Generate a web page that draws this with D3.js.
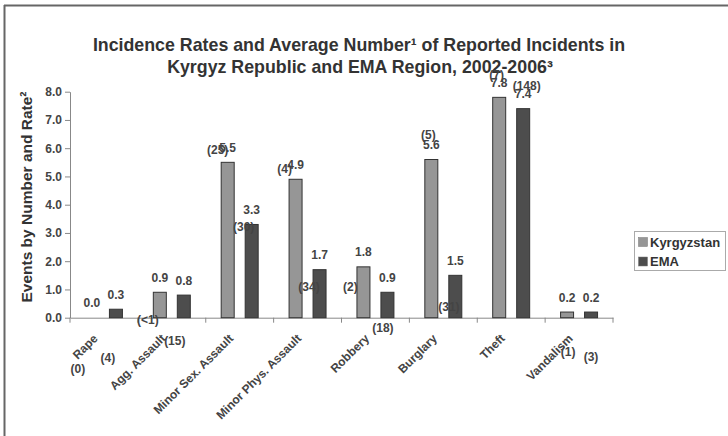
<!DOCTYPE html>
<html><head><meta charset="utf-8">
<script src="https://cdn.jsdelivr.net/npm/d3@7/dist/d3.min.js"></script>
<style>
body{margin:0;background:#fff;}
text{font-family:"Liberation Sans",Arial,sans-serif;font-weight:bold;}
</style></head>
<body><svg id="c" width="728" height="436"></svg>
<script>
const categories = ["Rape","Agg. Assault","Minor Sex. Assault","Minor Phys. Assault","Robbery","Burglary","Theft","Vandalism"];
const seriesNames = ["Kyrgyzstan","EMA"];
const kyrgyzRates = [0.0,0.9,5.5,4.9,1.8,5.6,7.8,0.2];
const emaRates = [0.3,0.8,3.3,1.7,0.9,1.5,7.4,0.2];
const kyrgyzCounts = ["(0)","(<1)","(25)","(4)","(2)","(5)","(7)","(1)"];
const emaCounts = ["(4)","(15)","(30)","(34)","(18)","(31)","(148)","(3)"];
const yTicks = [0,1,2,3,4,5,6,7,8];

// count label offsets relative to bar center / bar top (layout only)
const kyrgyzCountPos = [[-14,51],[-12,27],[-10,-13],[-11,-11],[-13,20],[-3,-24.5],[-2.5,-22.4],[1,40]];
const emaCountPos = [[-8,48],[-9,46],[-8,2.5],[-10.6,17.3],[-4.5,35.7],[-6.4,31.7],[3.5,-22.7],[0,45]];

const svg = d3.select("#c");
const colors = {Kyrgyzstan:"#969696", EMA:"#4d4d4d"};

// frame (top & left)
svg.append("line").attr("x1",4).attr("y1",5.5).attr("x2",728).attr("y2",5.5).attr("stroke","#666").attr("stroke-width",2);
svg.append("line").attr("x1",4.5).attr("y1",5).attr("x2",4.5).attr("y2",436).attr("stroke","#666").attr("stroke-width",2);

const pLeft=70, pRight=613, pTop=91.7, pBottom=317.7;
const x = d3.scaleBand().domain(categories).range([pLeft,pRight]);
const xs = d3.scaleBand().domain(seriesNames).range([0,x.bandwidth()]).paddingInner(0.458).paddingOuter(0.644);
const y = d3.scaleLinear().domain([0,8]).range([pBottom,pTop]);

// title
const title = svg.append("text").attr("text-anchor","middle").attr("fill","#333").style("font-size","17.8px");
title.append("tspan").attr("x",359).attr("y",50.5).text("Incidence Rates and Average Number\u00b9 of Reported Incidents in");
title.append("tspan").attr("x",360).attr("y",72.5).text("Kyrgyz Republic and EMA Region, 2002-2006\u00b3");

// y axis
const yAxis = svg.append("g").attr("transform",`translate(${pLeft},0)`)
  .call(d3.axisLeft(y).tickValues(yTicks).tickFormat(d3.format(".1f")).tickSize(5).tickSizeOuter(0));
yAxis.select(".domain").attr("stroke","#888");
yAxis.selectAll(".tick line").attr("stroke","#888");
yAxis.selectAll(".tick text").attr("fill","#444").style("font-size","12px").attr("x",-8);

// x axis
const xAxis = svg.append("g").attr("transform",`translate(0,${pBottom})`)
  .call(d3.axisBottom(x).tickSize(0).tickSizeOuter(0));
xAxis.select(".domain").attr("stroke","#888");
const bounds = categories.map(c=>x(c)).concat([pRight]);
xAxis.selectAll(".bnd").data(bounds).enter().append("line")
  .attr("x1",d=>d).attr("x2",d=>d).attr("y1",0).attr("y2",5).attr("stroke","#888");
xAxis.selectAll(".tick text")
  .attr("fill","#444").style("font-size","12px").attr("text-anchor","end")
  .attr("x",null).attr("y",null).attr("dy","0.35em")
  .attr("transform","translate(-8.5,18.5) rotate(-45)");

// bars
const data = categories.map((c,i)=>({c, vals:[
  {s:"Kyrgyzstan",v:kyrgyzRates[i],n:kyrgyzCounts[i],p:kyrgyzCountPos[i]},
  {s:"EMA",v:emaRates[i],n:emaCounts[i],p:emaCountPos[i]}]}));
const g = svg.selectAll(".cat").data(data).enter().append("g").attr("transform",d=>`translate(${x(d.c)},0)`);
g.selectAll("rect").data(d=>d.vals.filter(v=>v.v>0)).enter().append("rect")
  .attr("x",d=>xs(d.s)).attr("width",xs.bandwidth())
  .attr("y",d=>y(d.v)).attr("height",d=>pBottom-y(d.v))
  .attr("fill",d=>colors[d.s]).attr("stroke","#333").attr("stroke-width",1);
g.selectAll(".val").data(d=>d.vals).enter().append("text")
  .attr("text-anchor","middle").attr("fill","#444").style("font-size","12px")
  .attr("x",d=>xs(d.s)+xs.bandwidth()/2).attr("y",d=>y(d.v)-10.5).text(d=>d3.format(".1f")(d.v));
g.selectAll(".cnt").data(d=>d.vals).enter().append("text")
  .attr("text-anchor","middle").attr("fill","#444").style("font-size","12px")
  .attr("x",d=>xs(d.s)+xs.bandwidth()/2+d.p[0]).attr("y",d=>y(d.v)+d.p[1]+4.3).text(d=>d.n);

// y title
svg.append("text").attr("transform","translate(32,197) rotate(-90)").attr("text-anchor","middle")
  .attr("fill","#333").style("font-size","15.5px").text("Events by Number and Rate\u00b2");

// legend
const lg = svg.append("g").attr("transform","translate(634.5,231.5)");
lg.append("rect").attr("width",91).attr("height",39).attr("fill","#fff").attr("stroke","#aaa");
seriesNames.forEach((s,i)=>{
  lg.append("rect").attr("x",4).attr("y",6+i*19.5).attr("width",9).attr("height",9).attr("fill",colors[s]).attr("stroke","#777").attr("stroke-width",0.5);
  lg.append("text").attr("x",15.5).attr("y",15+i*19.5).attr("fill","#333").style("font-size","13px").text(s);
});
</script></body></html>
